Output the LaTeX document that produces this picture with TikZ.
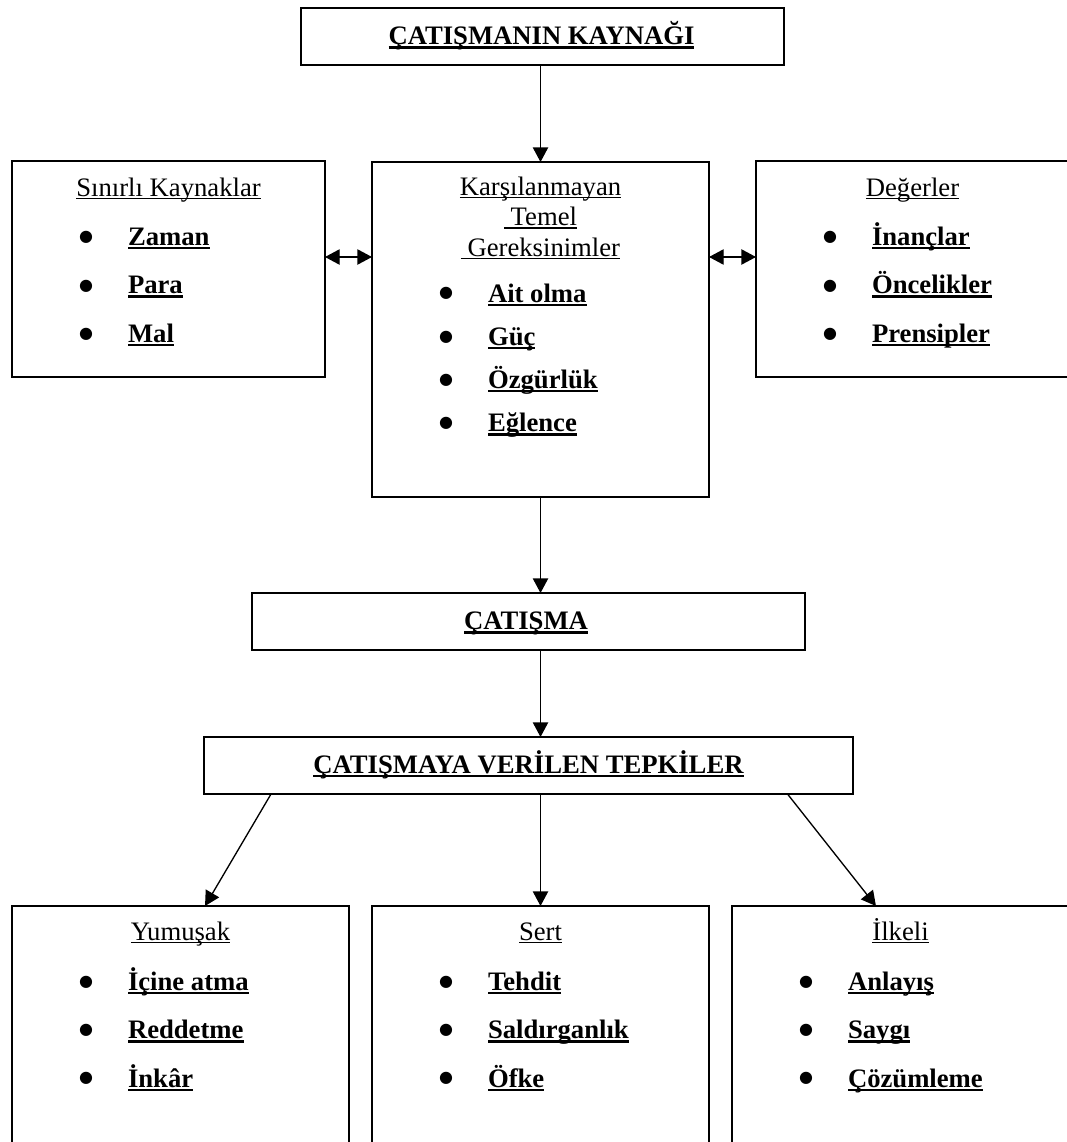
\documentclass[tikz,border=0pt]{standalone}
\usepackage{fontspec}
\setmainfont{Liberation Serif}
\newfontfamily\dejavu{DejaVu Sans}
\usetikzlibrary{arrows.meta}
\newsavebox\ulbox
\newcommand\hdr[1]{\sbox\ulbox{#1}\rlap{\rule[-2.5pt]{\wd\ulbox}{1.1pt}}\usebox\ulbox}
\newcommand\itm[1]{\sbox\ulbox{\bfseries #1}\rlap{\rule[-3.1pt]{\wd\ulbox}{1.9pt}}\usebox\ulbox}
\newcommand\bigbul{{\dejavu\fontsize{12}{12}\selectfont ●}}
\begin{document}
\begin{tikzpicture}[x=0.75pt,y=-0.75pt,
  box/.style={draw, line width=1.2pt, inner sep=0pt, outer sep=0pt},
  txt/.style={inner sep=0pt, outer sep=0pt, font=\fontsize{20}{22.5}\selectfont},
  bul/.style={inner sep=0pt, outer sep=0pt, anchor=base},
  item/.style={txt, anchor=base west},
  tip/.tip={Triangle[length=11pt,width=11.5pt]},
  arr/.style={-tip, line width=1pt},
  darr/.style={tip-tip, line width=1pt}]
\useasboundingbox (0,0) rectangle (1067,1142);
\clip (0,0) rectangle (1067,1142);
\fill[white] (0,0) rectangle (1067,1142);

% boxes
\node[box, minimum width=362.25pt, minimum height=42.75pt] (top) at (542.5,36.5) {};
\node[box, minimum width=234.75pt, minimum height=162pt] (L) at (168.5,269) {};
\node[box, minimum width=252.75pt, minimum height=251.25pt] (M) at (540.5,329.5) {};
\node[box, minimum width=234.75pt, minimum height=162pt] (R) at (912.5,269) {};
\node[box, minimum width=414.75pt, minimum height=42.75pt] (cat) at (528.5,621.5) {};
\node[box, minimum width=486.75pt, minimum height=42.75pt] (tep) at (528.5,765.5) {};
\node[box, minimum width=252.75pt, minimum height=190.5pt] (B1) at (180.5,1033) {};
\node[box, minimum width=252.75pt, minimum height=190.5pt] (B2) at (540.5,1033) {};
\node[box, minimum width=252.75pt, minimum height=190.5pt] (B3) at (900.5,1033) {};

% titles
\node[txt, anchor=base] (tTop) at (541.5,44.5) {\itm{ÇATIŞMANIN KAYNAĞI}};
\node[txt, anchor=base] (tCat) at (526,629.5) {\itm{ÇATIŞMA}};
\node[txt, anchor=base] (tTep) at (528.5,773) {\itm{ÇATIŞMAYA VERİLEN TEPKİLER}};

% left box
\node[txt, anchor=base] (hL) at (168.5,196) {\hdr{Sınırlı Kaynaklar}};
\node[bul] (bL1) at (86,241) {\bigbul};
\node[bul] (bL2) at (86,290) {\bigbul};
\node[bul] (bL3) at (86,338) {\bigbul};
\node[item] (iL1) at (128,245) {\itm{Zaman}};
\node[item] (iL2) at (128,293.5) {\itm{Para}};
\node[item] (iL3) at (128,342) {\itm{Mal}};

% middle box
\node[txt, anchor=base] (hM1) at (540.5,195) {\hdr{Karşılanmayan}};
\node[txt, anchor=base] (hM2) at (540.5,225.5) {\hdr{\ Temel}};
\node[txt, anchor=base] (hM3) at (540.5,256) {\hdr{\ Gereksinimler}};
\node[bul] (bM1) at (446,297) {\bigbul};
\node[bul] (bM2) at (446,341) {\bigbul};
\node[bul] (bM3) at (446,384) {\bigbul};
\node[bul] (bM4) at (446,427) {\bigbul};
\node[item] (iM1) at (488,302) {\itm{Ait olma}};
\node[item] (iM2) at (488,345) {\itm{Güç}};
\node[item] (iM3) at (488,388) {\itm{Özgürlük}};
\node[item] (iM4) at (488,431.5) {\itm{Eğlence}};

% right box
\node[txt, anchor=base] (hR) at (912.5,196) {\hdr{Değerler}};
\node[bul] (bR1) at (830,241) {\bigbul};
\node[bul] (bR2) at (830,290) {\bigbul};
\node[bul] (bR3) at (830,338) {\bigbul};
\node[item] (iR1) at (872,245) {\itm{İnançlar}};
\node[item] (iR2) at (872,293.5) {\itm{Öncelikler}};
\node[item] (iR3) at (872,342) {\itm{Prensipler}};

% bottom boxes
\node[txt, anchor=base] (hB1) at (180.5,940) {\hdr{Yumuşak}};
\node[bul] (bB11) at (86,986) {\bigbul};
\node[bul] (bB12) at (86,1034) {\bigbul};
\node[bul] (bB13) at (86,1082) {\bigbul};
\node[item] (iB11) at (128,990) {\itm{İçine atma}};
\node[item] (iB12) at (128,1038.5) {\itm{Reddetme}};
\node[item] (iB13) at (128,1087) {\itm{İnkâr}};

\node[txt, anchor=base] (hB2) at (540.5,940) {\hdr{Sert}};
\node[bul] (bB21) at (446,986) {\bigbul};
\node[bul] (bB22) at (446,1034) {\bigbul};
\node[bul] (bB23) at (446,1082) {\bigbul};
\node[item] (iB21) at (488,990) {\itm{Tehdit}};
\node[item] (iB22) at (488,1038.5) {\itm{Saldırganlık}};
\node[item] (iB23) at (488,1087) {\itm{Öfke}};

\node[txt, anchor=base] (hB3) at (900.5,940) {\hdr{İlkeli}};
\node[bul] (bB31) at (806,986) {\bigbul};
\node[bul] (bB32) at (806,1034) {\bigbul};
\node[bul] (bB33) at (806,1082) {\bigbul};
\node[item] (iB31) at (848,990) {\itm{Anlayış}};
\node[item] (iB32) at (848,1038.5) {\itm{Saygı}};
\node[item] (iB33) at (848,1087) {\itm{Çözümleme}};

% connectors
\coordinate (ay) at (0,257);
\draw[arr] (M.north |- top.south) -- (M.north);
\draw[darr] (L.east |- ay) -- (M.west |- ay);
\draw[darr] (M.east |- ay) -- (R.west |- ay);
\draw[arr] (M.south) -- (M.south |- cat.north);
\draw[arr] (M.south |- cat.south) -- (M.south |- tep.north);
\draw[arr] ([xshift=-193.1pt]tep.south) -- ([xshift=18.4pt]B1.north);
\draw[arr] (B2.north |- tep.south) -- (B2.north);
\draw[arr] ([xshift=194.25pt]tep.south) -- ([xshift=-18.4pt]B3.north);
\end{tikzpicture}
\end{document}
